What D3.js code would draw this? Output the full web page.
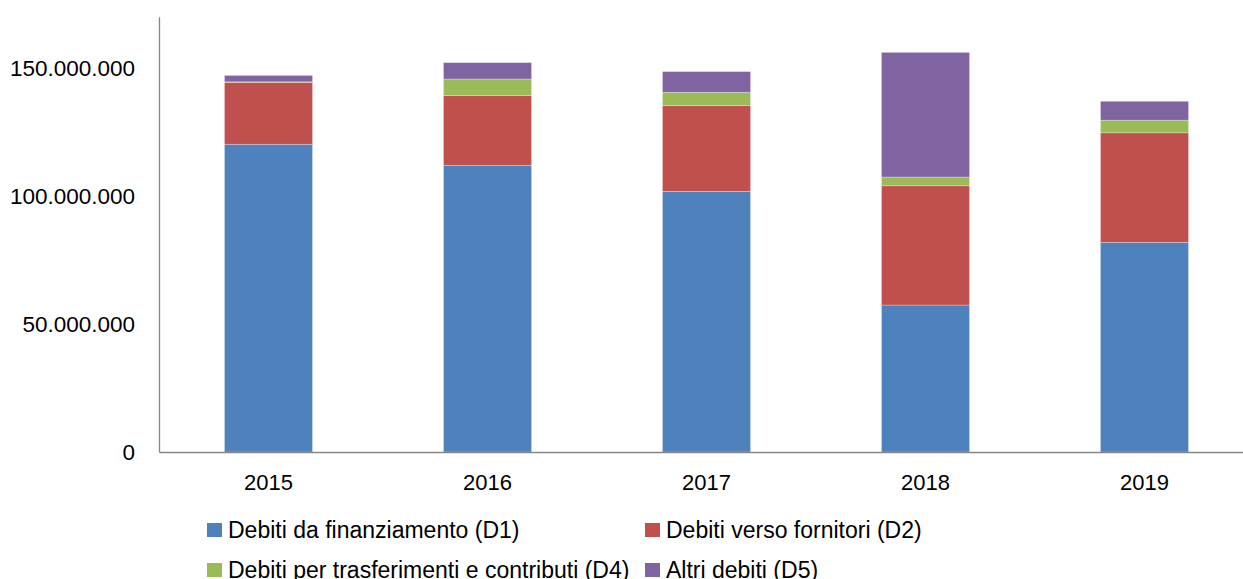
<!DOCTYPE html>
<html>
<head>
<meta charset="utf-8">
<script src="https://cdn.jsdelivr.net/npm/d3@7"></script>
<style>
  html, body { margin: 0; padding: 0; background: #fff; }
  svg { display: block; font-family: "Liberation Sans", Arial, sans-serif; }
</style>
</head>
<body>
<div id="chart"></div>
<script>
// ----- Data (values in euro)
const years = ["2015", "2016", "2017", "2018", "2019"];
const seriesKeys = ["D1", "D2", "D4", "D5"];
const seriesNames = [
  "Debiti da finanziamento (D1)",
  "Debiti verso fornitori (D2)",
  "Debiti per trasferimenti e contributi (D4)",
  "Altri debiti (D5)"
];
const d1Values = [120200000, 112000000, 101800000, 57400000, 81900000];
const d2Values = [24200000, 27200000, 33500000, 46600000, 42800000];
const d4Values = [200000, 6500000, 5200000, 3400000, 4900000];
const d5Values = [2500000, 6400000, 8100000, 48700000, 7400000];
const yTicks = [0, 50000000, 100000000, 150000000];

const colors = ["#4f81bd", "#c0504d", "#9bbb59", "#8064a2"];

// table for d3.stack
const rows = years.map((y, i) => ({
  year: y,
  D1: d1Values[i],
  D2: d2Values[i],
  D4: d4Values[i],
  D5: d5Values[i]
}));

const width = 1243, height = 579;
const svg = d3.select("#chart").append("svg")
  .attr("width", width)
  .attr("height", height);

const x = d3.scaleBand()
  .domain(years)
  .range([159, 1254])
  .paddingInner(0.598)
  .paddingOuter(0.299);

const y = d3.scaleLinear()
  .domain([0, 170000000])
  .range([452, 16.8]);

const it = d3.formatLocale({ decimal: ",", thousands: ".", grouping: [3], currency: ["", "€"] });
const fmt = it.format(",.0f");

// stacked bars
const stacked = d3.stack().keys(seriesKeys)(rows);
svg.append("g")
  .selectAll("g")
  .data(stacked)
  .join("g")
    .attr("fill", (d, i) => colors[i])
  .selectAll("rect")
  .data(d => d)
  .join("rect")
    .attr("x", d => x(d.data.year))
    .attr("y", d => y(d[1]))
    .attr("width", x.bandwidth())
    .attr("height", d => y(d[0]) - y(d[1]))
    .attr("stroke", "rgba(255,255,255,0.35)")
    .attr("stroke-width", 0.8);

// y axis
const yAxis = d3.axisLeft(y)
  .tickValues(yTicks)
  .tickSize(0)
  .tickPadding(24)
  .tickFormat(fmt);
svg.append("g")
  .attr("transform", "translate(159,0)")
  .call(yAxis)
  .call(g => g.select(".domain").attr("stroke", "#868686").attr("stroke-width", 1.3))
  .call(g => g.selectAll(".tick text")
    .attr("font-size", 22.5)
    .attr("fill", "#000")
    .attr("font-family", "Liberation Sans, Arial, sans-serif"));

// x axis
const xAxis = d3.axisBottom(x).tickSize(0).tickPadding(22);
svg.append("g")
  .attr("transform", "translate(0,452)")
  .call(xAxis)
  .call(g => g.select(".domain").attr("stroke", "#868686").attr("stroke-width", 1.3))
  .call(g => g.selectAll(".tick text")
    .attr("font-size", 22)
    .attr("fill", "#000")
    .attr("font-family", "Liberation Sans, Arial, sans-serif"));

// legend
const legendPos = [
  { x: 207, y: 530 },
  { x: 645, y: 530 },
  { x: 207, y: 570 },
  { x: 645, y: 570 }
];
const legend = svg.append("g")
  .selectAll("g")
  .data(seriesNames)
  .join("g")
    .attr("transform", (d, i) => `translate(${legendPos[i].x},${legendPos[i].y})`);

legend.append("rect")
  .attr("x", 0)
  .attr("y", -7)
  .attr("width", 15)
  .attr("height", 14)
  .attr("fill", (d, i) => colors[i]);

legend.append("text")
  .attr("x", 21)
  .attr("y", 0)
  .attr("dy", "0.35em")
  .attr("font-size", 23)
  .attr("fill", "#000")
  .text(d => d);
</script>
</body>
</html>
